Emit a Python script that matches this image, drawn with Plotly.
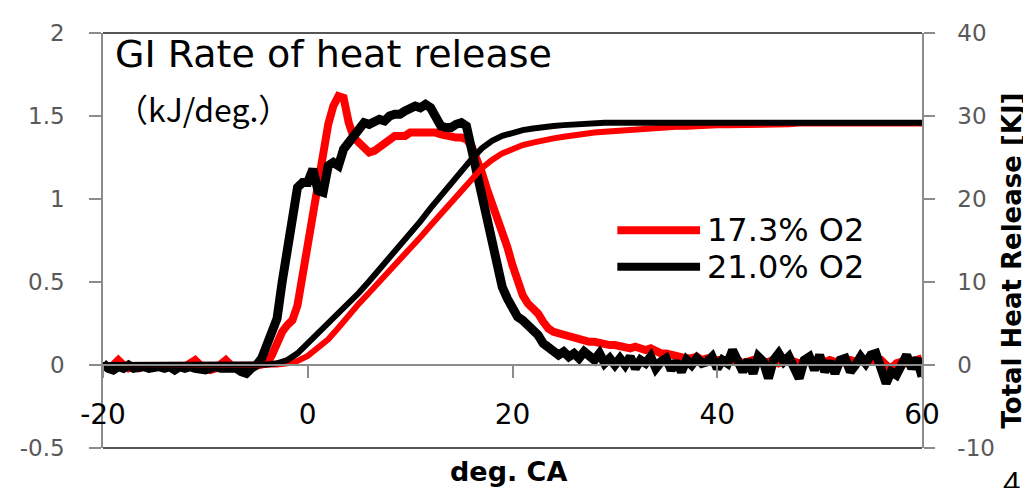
import plotly.graph_objects as go

# === DATA ===
# rate of heat release, kJ/deg, sampled every 0.5 deg CA from -20 to 60
rohr_start, rohr_step = -20, 0.5
rohr_173 = [
    0.00, -0.02, 0.00, 0.03, 0.00, -0.02, -0.01, -0.02, -0.01, -0.01,   # -20
    -0.02, -0.02, -0.01, -0.01, -0.02, -0.02, -0.01, 0.01, 0.03, 0.00,  # -15
    -0.02, -0.03, -0.02, 0.00, 0.03, 0.00, -0.02, -0.01, -0.02, -0.01,  # -10
    0.00, 0.00, 0.01, 0.06, 0.14, 0.20, 0.24, 0.27, 0.36, 0.55,         # -5
    0.74, 0.93, 1.08, 1.26, 1.45, 1.56, 1.62, 1.61, 1.46, 1.37,         # 0
    1.34, 1.32, 1.28, 1.29, 1.31, 1.33, 1.36, 1.38, 1.38, 1.38,         # 5
    1.40, 1.40, 1.41, 1.41, 1.41, 1.40, 1.39, 1.38, 1.38, 1.37,         # 10
    1.37, 1.36, 1.32, 1.25, 1.16, 1.06, 0.98, 0.89, 0.79, 0.71,         # 15
    0.60, 0.50, 0.42, 0.37, 0.34, 0.31, 0.26, 0.22, 0.20, 0.19,         # 20
    0.18, 0.17, 0.16, 0.15, 0.15, 0.14, 0.14, 0.13, 0.13, 0.12,         # 25
    0.12, 0.11, 0.11, 0.10, 0.11, 0.10, 0.09, 0.10, 0.08, 0.07,         # 30
    0.07, 0.06, 0.05, 0.05, 0.04, 0.04, 0.05, 0.03, 0.04, 0.03,         # 35
    0.03, 0.02, 0.03, 0.02, 0.03, 0.01, 0.02, 0.03, 0.02, 0.01,         # 40
    0.02, 0.03, 0.01, 0.02, 0.03, 0.02, 0.01, 0.02, 0.03, 0.02,         # 45
    0.01, 0.02, 0.03, 0.02, 0.01, 0.02, 0.03, 0.02, 0.02, 0.01,         # 50
    0.02, 0.03, 0.03, 0.00, -0.02, 0.01, 0.02, 0.01, 0.02, 0.03,        # 55
    0.04,                                                                # 60
]
rohr_210 = [
    0.01, -0.02, -0.03, -0.01, -0.02, 0.00, -0.02, -0.01, -0.01, -0.02,   # -20
    -0.01, -0.01, -0.02, -0.01, -0.03, -0.01, -0.02, -0.01, -0.02, -0.03, # -15
    -0.03, -0.02, -0.01, -0.02, -0.02, -0.01, -0.02, -0.04, -0.05, -0.02, # -10
    0.00, 0.04, 0.13, 0.20, 0.28, 0.50, 0.72, 0.92, 1.07, 1.10,           # -5
    1.10, 1.18, 1.05, 1.04, 1.20, 1.22, 1.20, 1.30, 1.34, 1.36,           # 0
    1.42, 1.46, 1.45, 1.47, 1.48, 1.47, 1.50, 1.51, 1.51, 1.53,           # 5
    1.55, 1.56, 1.55, 1.57, 1.55, 1.48, 1.44, 1.43, 1.43, 1.45,           # 10
    1.46, 1.44, 1.30, 1.14, 0.98, 0.85, 0.70, 0.55, 0.47, 0.40,           # 15
    0.34, 0.29, 0.27, 0.24, 0.22, 0.18, 0.13, 0.11, 0.09, 0.06,           # 20
    0.08, 0.05, 0.07, 0.04, 0.08, 0.06, 0.03, 0.07, 0.01, 0.04,           # 25
    0.00, 0.04, 0.00, 0.05, -0.02, 0.03, 0.01, 0.05, -0.02, 0.02,         # 30
    0.04, -0.03, 0.02, -0.04, 0.03, 0.00, 0.04, 0.01, 0.02, 0.05,         # 35
    -0.02, 0.03, 0.01, 0.09, 0.02, -0.04, 0.03, -0.05, 0.05, 0.02,        # 40
    -0.08, 0.03, 0.07, 0.02, 0.05, -0.02, -0.08, 0.03, 0.05, -0.03,       # 45
    0.06, -0.04, 0.02, -0.05, 0.03, 0.04, -0.04, 0.00, 0.05, 0.01,        # 50
    0.06, 0.07, -0.03, -0.11, -0.04, -0.06, 0.00, 0.06, -0.02, 0.04,      # 55
    -0.07,                                                                 # 60
]

# total heat release, kJ, every 1 deg CA from -20 to 60
thr_start, thr_step = -20, 1
thr_173 = [
    0, 0, 0, 0, 0, 0, 0, 0, 0, 0,                               # -20
    0, 0, 0, 0, 0, 0, 0, 0.05, 0.2, 0.5,                        # -10
    1.1, 2.0, 3.1, 4.5, 6.0, 7.4, 8.7, 10.0, 11.3, 12.7,        # 0
    14.0, 15.4, 16.8, 18.2, 19.6, 21.0, 22.4, 23.7, 24.7, 25.5, # 10
    26.0, 26.5, 26.8, 27.1, 27.3, 27.5, 27.7, 27.8, 28.0, 28.1, # 20
    28.2, 28.3, 28.4, 28.5, 28.6, 28.6, 28.7, 28.7, 28.8, 28.8, # 30
    28.9, 28.9, 28.9, 29.0, 29.0, 29.0, 29.0, 29.0, 29.1, 29.1, # 40
    29.1, 29.1, 29.1, 29.1, 29.1, 29.1, 29.1, 29.1, 29.1, 29.1, # 50
    29.1,                                                        # 60
]
thr_210 = [
    0, 0, 0, 0, 0, 0, 0, 0, 0, 0,                               # -20
    0, 0, 0, 0, 0, 0, 0.05, 0.2, 0.6, 1.4,                      # -10
    2.6, 3.7, 4.9, 6.1, 7.4, 8.7, 10.1, 11.5, 12.9, 14.3,       # 0
    15.8, 17.3, 18.9, 20.4, 21.9, 23.4, 24.8, 26.1, 27.0, 27.6, # 10
    28.0, 28.3, 28.5, 28.7, 28.8, 28.9, 29.0, 29.1, 29.1, 29.2, # 20
    29.2, 29.2, 29.3, 29.3, 29.3, 29.3, 29.3, 29.3, 29.3, 29.3, # 30
    29.3, 29.3, 29.3, 29.3, 29.3, 29.3, 29.3, 29.3, 29.3, 29.3, # 40
    29.3, 29.3, 29.3, 29.3, 29.3, 29.3, 29.3, 29.3, 29.2, 29.2, # 50
    29.2,                                                        # 60
]

series_names = ["17.3% O2", "21.0% O2"]
series_colors = ["#ff0000", "#000000"]

x_ticks = [-20, 0, 20, 40, 60]
x_ticktext = ["-20", "0", "20", "40", "60"]
y_ticks = [-0.5, 0, 0.5, 1, 1.5, 2]
y_ticktext = ["-0.5", "0", "0.5", "1", "1.5", "2"]
y2_ticks = [-10, 0, 10, 20, 30, 40]
y2_ticktext = ["-10", "0", "10", "20", "30", "40"]

fig = go.Figure()

rohr = [rohr_173, rohr_210]
thr = [thr_173, thr_210]
for i in range(2):
    fig.add_trace(go.Scatter(
        y=rohr[i], x0=rohr_start, dx=rohr_step, mode="lines",
        line=dict(color=series_colors[i], width=8 + i),
        name=series_names[i], showlegend=False,
    ))
    fig.add_trace(go.Scatter(
        y=thr[i], x0=thr_start, dx=thr_step, mode="lines", yaxis="y2",
        line=dict(color=series_colors[i], width=6),
        name=series_names[i] + " total", showlegend=False,
    ))

gray = "#8c8c8c"
tick_gray = "#595959"

# page body has an 8px margin, so the figure is 8px smaller each way
fig.update_layout(
    width=1023, height=480,
    margin=dict(l=94, r=109, t=17, b=40),
    plot_bgcolor="white", paper_bgcolor="white",
    showlegend=False,
    xaxis=dict(
        range=[-20, 60], tickvals=x_ticks, ticktext=x_ticktext, anchor="free", position=0.2,
        showline=True, linecolor=gray, linewidth=1.5,
        ticks="outside", ticklen=12, tickcolor=gray, tickwidth=1.5,
        tickfont=dict(family="DejaVu Sans", size=28, color="black"),
        ticklabelstandoff=13,
        showgrid=False, zeroline=False,
    ),
    yaxis=dict(
        range=[-0.5, 2], tickvals=y_ticks, ticktext=y_ticktext,
        showline=True, linecolor=gray, linewidth=1.5,
        ticks="outside", ticklen=12, tickcolor=gray, tickwidth=1.5,
        tickfont=dict(family="DejaVu Sans", size=23, color=tick_gray),
        ticklabelstandoff=20,
        showgrid=False, zeroline=False,
    ),
    yaxis2=dict(
        range=[-10, 40], tickvals=y2_ticks, ticktext=y2_ticktext,
        overlaying="y", side="right", anchor="x",
        showline=True, linecolor=gray, linewidth=1.5,
        ticks="outside", ticklen=11, tickcolor=gray, tickwidth=1.5,
        tickfont=dict(family="DejaVu Sans", size=23, color=tick_gray),
        ticklabelstandoff=18,
        showgrid=False, zeroline=False,
    ),
)

# frame top and bottom
for yy in [0, 1]:
    fig.add_shape(type="line", xref="paper", yref="paper", x0=0, x1=1, y0=yy, y1=yy,
                  line=dict(color="#555555", width=2))

# custom legend with long line samples
for i, yy in enumerate([0.525, 0.437]):
    fig.add_shape(type="line", xref="paper", yref="paper", x0=0.628, x1=0.729, y0=yy, y1=yy,
                  line=dict(color=series_colors[i], width=8))
    fig.add_annotation(text=series_names[i], xref="paper", yref="paper", x=0.735, y=yy,
                       xanchor="left", yanchor="middle", showarrow=False,
                       font=dict(family="DejaVu Sans", size=32, color="black"))

# texts
fig.add_annotation(text="GI Rate of heat release", xref="paper", yref="paper", x=0.012, y=0.95,
                   xanchor="left", yanchor="middle", showarrow=False,
                   font=dict(family="DejaVu Sans", size=38, color="black"))
fig.add_annotation(text="（kJ/deg.）", xref="paper", yref="paper", x=0.014, y=0.82,
                   xanchor="left", yanchor="middle", showarrow=False,
                   font=dict(family="Noto Sans CJK JP", size=32, color="black"))
fig.add_annotation(text="<b>deg. CA</b>", xref="paper", yref="paper", x=0.495, y=-0.057,
                   xanchor="center", yanchor="middle", showarrow=False,
                   font=dict(family="DejaVu Sans", size=27, color="black"))
fig.add_annotation(text="<b>Total Heat Release [KJ]</b>", xref="paper", yref="paper", x=1.11, y=0.452,
                   xanchor="center", yanchor="middle", textangle=-90, showarrow=False,
                   font=dict(family="DejaVu Sans", size=26, color="black"))
fig.add_annotation(text="41", xref="paper", yref="paper", x=1.096, y=-0.03,
                   xanchor="left", yanchor="top", showarrow=False,
                   font=dict(family="Noto Sans", size=30, color="black"))

fig.write_html("out.html")
